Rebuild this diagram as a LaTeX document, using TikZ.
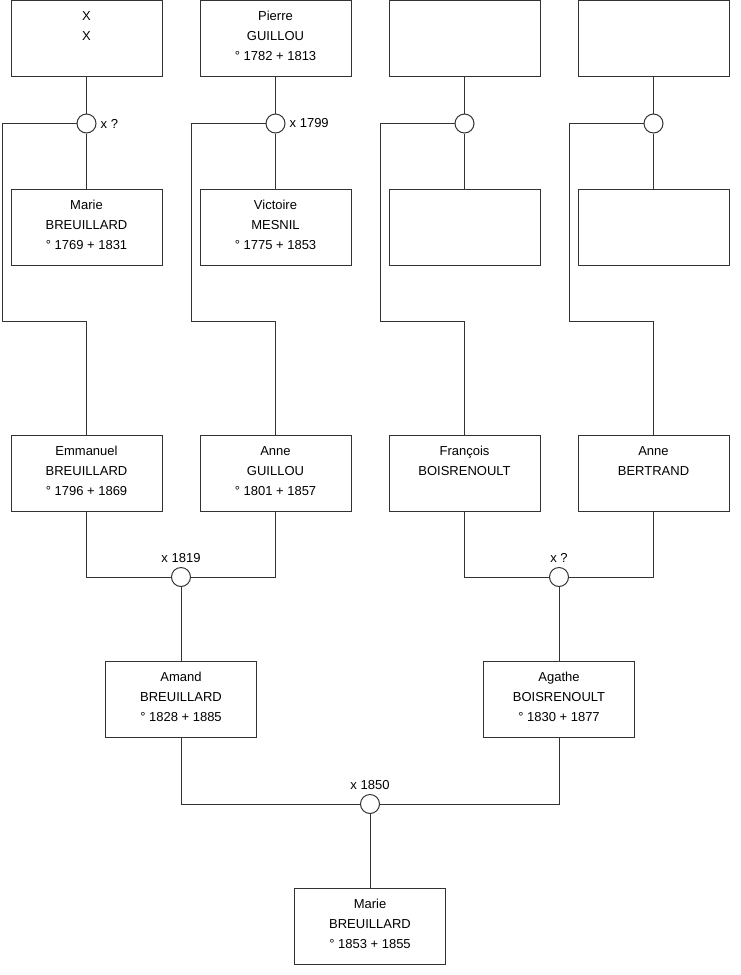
\documentclass[tikz,border=0pt]{standalone}
\usepackage{fontspec}
\setmainfont{Liberation Sans}
\usetikzlibrary{positioning}

% three text lines, top aligned in every box
\newcommand{\gline}{\rule[-8pt]{0pt}{20pt}}
\newcommand{\person}[3]{\gline#1\\\gline#2\\\gline#3}

\begin{document}
\begin{tikzpicture}[x=1pt,y=-1pt]

% ---- Styles ----
\tikzset{
  personbox/.style={rectangle, draw=black!80, line width=1pt, fill=white,
                    minimum width=151pt, minimum height=76pt, inner sep=0pt,
                    align=center, font=\fontsize{13}{20}\selectfont},
  union/.style={circle, draw=black!80, line width=1pt, fill=white,
                minimum size=19pt, inner sep=0pt},
  datelbl/.style={inner sep=0pt, font=\fontsize{13}{16}\selectfont},
  tline/.style={draw=black!80, line width=1pt},
}

\useasboundingbox (0,0) rectangle (740,975);

% --- Great-grandparents ---
\node[personbox] (xx)      at (86.5,38.5)  {\person{X}{X}{}};
\node[personbox] (pierre)  at (275.5,38.5) {\person{Pierre}{GUILLOU}{° 1782 + 1813}};
\node[personbox] (gp3)     at (464.5,38.5) {\person{}{}{}};
\node[personbox] (gp5)     at (653.5,38.5) {\person{}{}{}};

\node[personbox] (mariea)  at (86.5,227)  {\person{Marie}{BREUILLARD}{° 1769 + 1831}};
\node[personbox] (victoire) at (275.5,227) {\person{Victoire}{MESNIL}{° 1775 + 1853}};
\node[personbox] (gp4)     at (464.5,227) {\person{}{}{}};
\node[personbox] (gp6)     at (653.5,227) {\person{}{}{}};

% --- Unions (first row) ---
\node[union] (u1) at (86.5,123.5)  {};
\node[union] (u2) at (275.5,123.5) {};
\node[union] (u3) at (464.5,123.5) {};
\node[union] (u4) at (653.5,123.5) {};
\node[datelbl, right=4pt of u1] (u1lbl) {x ?};
\node[datelbl, right=4pt of u2] (u2lbl) {x 1799};

% --- Grandparents ---
\node[personbox] (emmanuel) at (86.5,473)  {\person{Emmanuel}{BREUILLARD}{° 1796 + 1869}};
\node[personbox] (anneg)    at (275.5,473) {\person{Anne}{GUILLOU}{° 1801 + 1857}};
\node[personbox] (francois) at (464.5,473) {\person{François}{BOISRENOULT}{}};
\node[personbox] (anneb)    at (653.5,473) {\person{Anne}{BERTRAND}{}};

% --- Unions (second row) ---
\node[union] (u5) at (181,577) {};
\node[union] (u6) at (559,577) {};
\node[datelbl, above=4pt of u5] (u5lbl) {x 1819};
\node[datelbl, above=4pt of u6] (u6lbl) {x ?};

% --- Parents ---
\node[personbox] (amand)  at (181,699) {\person{Amand}{BREUILLARD}{° 1828 + 1885}};
\node[personbox] (agathe) at (559,699) {\person{Agathe}{BOISRENOULT}{° 1830 + 1877}};

\node[union] (u7) at (370,804) {};
\node[datelbl, above=4pt of u7] (u7lbl) {x 1850};

% --- Child ---
\node[personbox] (marieb) at (370,926) {\person{Marie}{BREUILLARD}{° 1853 + 1855}};

% --- Bend points ---
\coordinate (k1) at (2.5,321.5);
\coordinate (k2) at (191.5,321.5);
\coordinate (k3) at (380.5,321.5);
\coordinate (k4) at (569.5,321.5);

% --- Connectors ---
\draw[tline] (xx.south) -- (u1.north);
\draw[tline] (u1.south) -- (mariea.north);
\draw[tline] (pierre.south) -- (u2.north);
\draw[tline] (u2.south) -- (victoire.north);
\draw[tline] (gp3.south) -- (u3.north);
\draw[tline] (u3.south) -- (gp4.north);
\draw[tline] (gp5.south) -- (u4.north);
\draw[tline] (u4.south) -- (gp6.north);

\draw[tline] (u1.west) -| (k1) -| (emmanuel.north);
\draw[tline] (u2.west) -| (k2) -| (anneg.north);
\draw[tline] (u3.west) -| (k3) -| (francois.north);
\draw[tline] (u4.west) -| (k4) -| (anneb.north);

\draw[tline] (emmanuel.south) |- (u5.west);
\draw[tline] (anneg.south) |- (u5.east);
\draw[tline] (francois.south) |- (u6.west);
\draw[tline] (anneb.south) |- (u6.east);
\draw[tline] (u5.south) -- (amand.north);
\draw[tline] (u6.south) -- (agathe.north);

\draw[tline] (amand.south) |- (u7.west);
\draw[tline] (agathe.south) |- (u7.east);
\draw[tline] (u7.south) -- (marieb.north);

\end{tikzpicture}
\end{document}
